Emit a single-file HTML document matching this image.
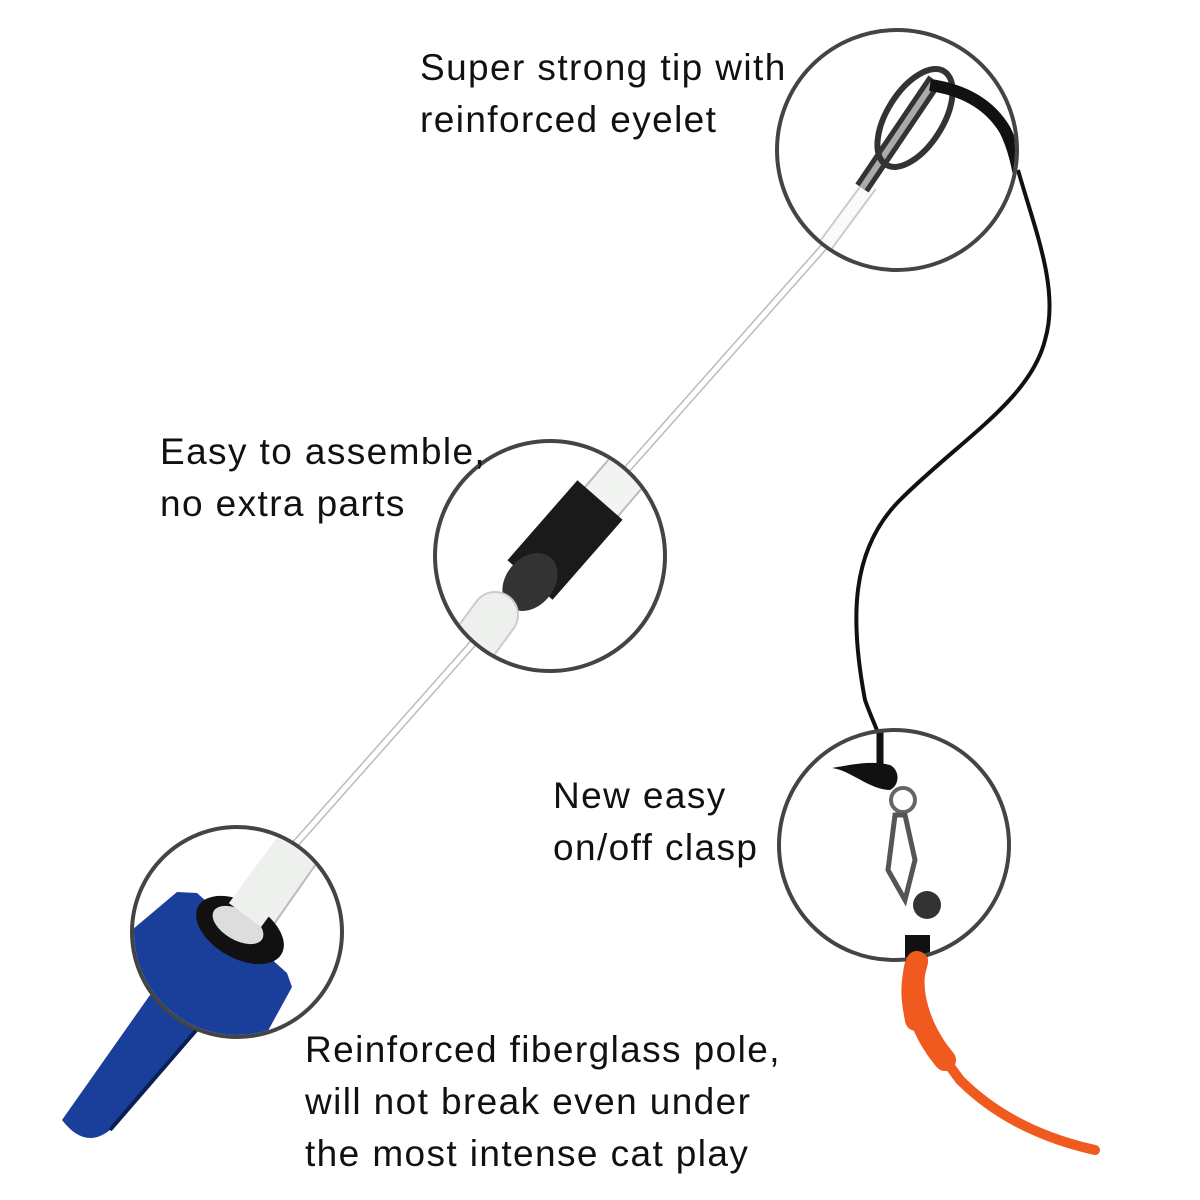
<!DOCTYPE html>
<html><head><meta charset="utf-8"><style>
html,body{margin:0;padding:0;background:#fff;width:1200px;height:1200px;overflow:hidden}
.t{position:absolute;font-family:"Liberation Sans",sans-serif;font-size:37px;color:#111;line-height:52px;letter-spacing:1.4px}
</style></head><body>
<svg width="1200" height="1200" style="position:absolute;left:0;top:0">
<defs>
<clipPath id="c1"><circle cx="897" cy="150" r="118"/></clipPath>
<clipPath id="c2"><circle cx="550" cy="556" r="113"/></clipPath>
<clipPath id="c3"><circle cx="237" cy="932" r="103"/></clipPath>
<clipPath id="c4"><circle cx="894" cy="845" r="113"/></clipPath>
</defs>
<!-- cord -->
<path d="M1018,170 C1035,230 1060,290 1045,340 C1030,400 960,440 900,500 C850,550 850,620 865,700 C872,720 878,730 880,740" fill="none" stroke="#111" stroke-width="4"/>
<!-- pole -->
<line x1="830" y1="240" x2="290" y2="850" stroke="#bbb" stroke-width="8"/>
<line x1="830" y1="240" x2="290" y2="850" stroke="#fff" stroke-width="5"/>
<!-- worm -->
<path d="M915,960 C905,1000 930,1040 960,1080 C1000,1120 1050,1140 1095,1150" fill="none" stroke="#f05a1e" stroke-width="10" stroke-linecap="round"/>
<path d="M917,960 C907,990 920,1030 945,1060" fill="none" stroke="#f05a1e" stroke-width="22" stroke-linecap="round"/>
<!-- handle outside -->
<path d="M150,995 L205,1020 L110,1130 Q85,1150 62,1120 Z" fill="#1a3f9a"/>
<path d="M205,1020 L110,1130" stroke="#0c1f55" stroke-width="4"/>
<!-- circles -->
<circle cx="897" cy="150" r="120" fill="#fff" stroke="#444" stroke-width="4"/>
<circle cx="550" cy="556" r="115" fill="#fff" stroke="#444" stroke-width="4"/>
<circle cx="237" cy="932" r="105" fill="#fff" stroke="#444" stroke-width="4"/>
<circle cx="894" cy="845" r="115" fill="#fff" stroke="#444" stroke-width="4"/>
<g clip-path="url(#c1)">
<line x1="870" y1="185" x2="800" y2="280" stroke="#ccc" stroke-width="16"/>
<line x1="870" y1="185" x2="800" y2="280" stroke="#fafafa" stroke-width="12"/>
<line x1="935" y1="80" x2="862" y2="188" stroke="#333" stroke-width="16"/>
<line x1="935" y1="80" x2="862" y2="188" stroke="#aaa" stroke-width="6"/>
<ellipse cx="915" cy="118" rx="28" ry="55" transform="rotate(32 915 118)" fill="none" stroke="#333" stroke-width="6"/>
<path d="M930,85 C965,90 990,105 1005,130 C1015,150 1020,175 1022,200" fill="none" stroke="#111" stroke-width="12"/>
</g>
<g clip-path="url(#c2)">
<line x1="650" y1="445" x2="590" y2="515" stroke="#bbb" stroke-width="46"/>
<line x1="650" y1="445" x2="590" y2="515" stroke="#f2f4f2" stroke-width="42"/>
<line x1="600" y1="500" x2="530" y2="580" stroke="#1a1a1a" stroke-width="60"/>
<ellipse cx="530" cy="582" rx="24" ry="32" transform="rotate(40 530 582)" fill="#333"/>
<line x1="495" y1="615" x2="440" y2="690" stroke="#ccc" stroke-width="48" stroke-linecap="round"/>
<line x1="495" y1="615" x2="440" y2="690" stroke="#eef0ee" stroke-width="44" stroke-linecap="round"/>
</g>
<g clip-path="url(#c3)">
<line x1="320" y1="820" x2="250" y2="920" stroke="#bbb" stroke-width="46"/>
<line x1="320" y1="820" x2="250" y2="920" stroke="#eef0ee" stroke-width="42"/>
<path d="M120,940 L177,892 L197,893 L287,973 L292,987 L263,1040 L120,1040 Z" fill="#1a3f9a"/>
<ellipse cx="240" cy="930" rx="48" ry="28" transform="rotate(30 240 930)" fill="#111"/>
<ellipse cx="238" cy="925" rx="28" ry="15" transform="rotate(30 238 925)" fill="#ddd"/>
<line x1="300" y1="840" x2="245" y2="915" stroke="#eef0ee" stroke-width="40"/>
</g>
<g clip-path="url(#c4)">
<path d="M880,720 L880,770" stroke="#111" stroke-width="7"/>
<path d="M832,768 C850,770 870,790 890,790 C900,785 900,770 890,765 C870,760 850,765 832,768 Z" fill="#111"/>
<circle cx="903" cy="800" r="12" fill="none" stroke="#666" stroke-width="4"/>
<path d="M895,815 L888,870 L905,900 L915,860 L905,815 Z" fill="none" stroke="#555" stroke-width="5"/>
<circle cx="927" cy="905" r="14" fill="#333"/>
<rect x="905" y="935" width="25" height="28" fill="#111"/>
</g>
<path d="M917,962 C910,985 912,1000 916,1020" stroke="#f05a1e" stroke-width="22" fill="none" stroke-linecap="round"/>
</svg>
<div class="t" style="left:420px;top:42px">Super strong tip with<br>reinforced eyelet</div>
<div class="t" style="left:160px;top:426px">Easy to assemble,<br>no extra parts</div>
<div class="t" style="left:553px;top:770px">New easy<br>on/off clasp</div>
<div class="t" style="left:305px;top:1024px">Reinforced fiberglass pole,<br>will not break even under<br>the most intense cat play</div>
</body></html>
